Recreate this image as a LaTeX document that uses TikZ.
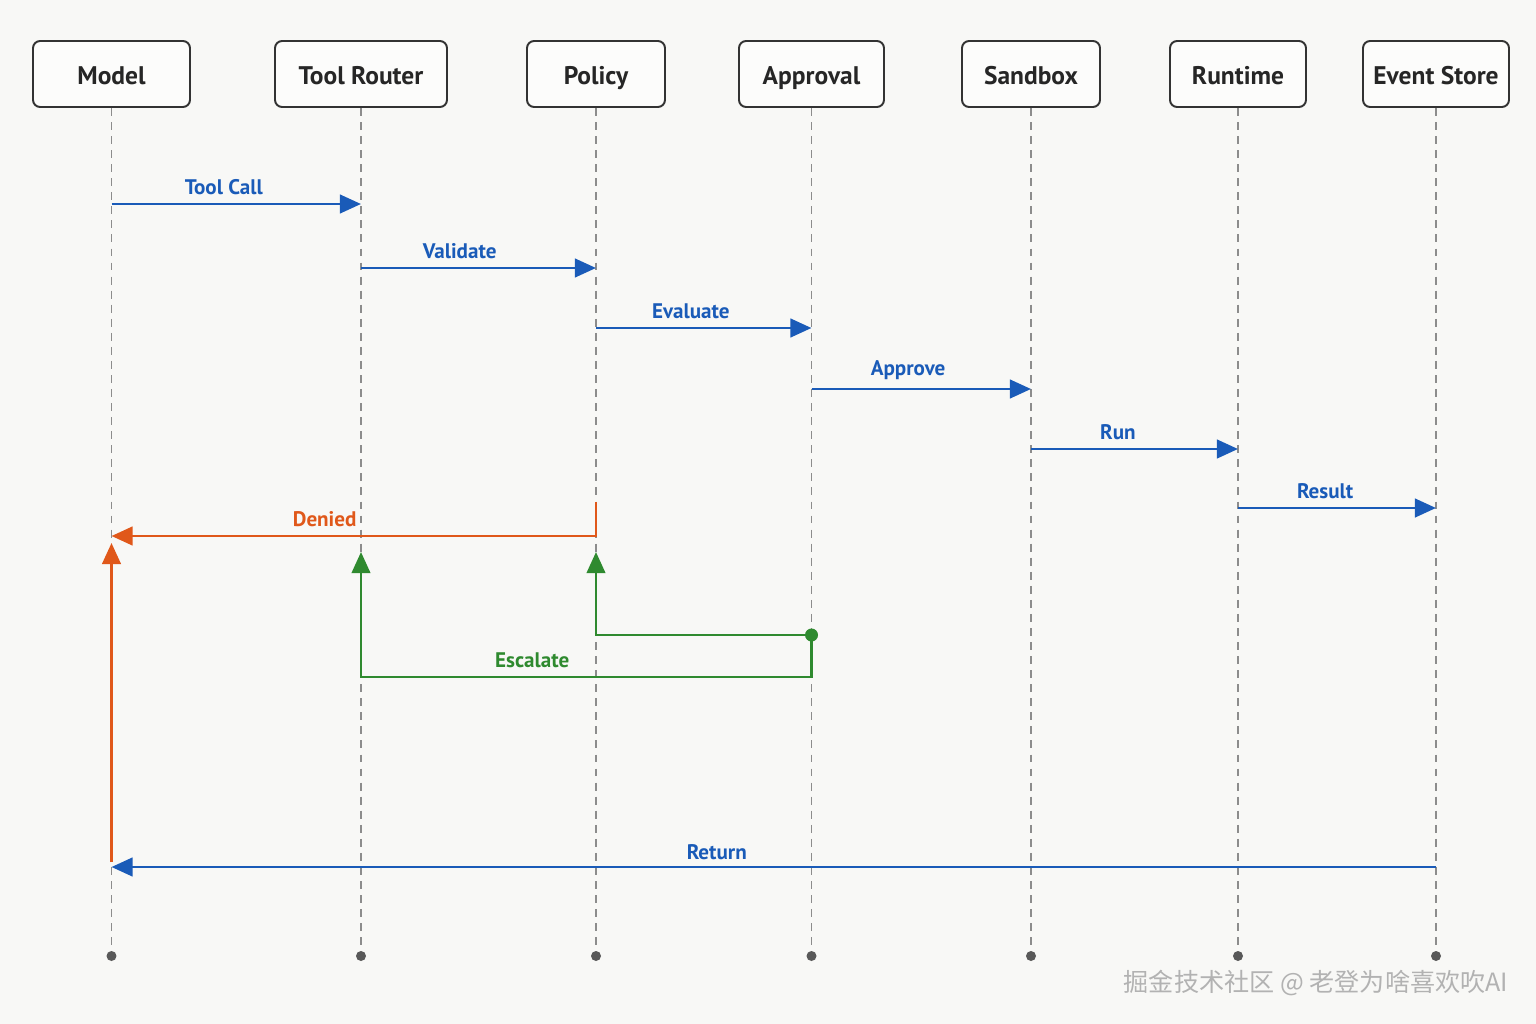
\documentclass[tikz,border=0pt]{standalone}
\usepackage{fontspec}
\setmainfont{PT Sans}
\newfontfamily\cjkfont{Noto Sans CJK SC}
\usetikzlibrary{arrows.meta,positioning,calc}
\definecolor{bgcol}{HTML}{F8F8F6}
\definecolor{msgblue}{HTML}{1A5BB8}
\definecolor{denyorange}{HTML}{E0581A}
\definecolor{escgreen}{HTML}{2F8A2F}
\definecolor{framegray}{HTML}{333333}

\begin{document}
\begin{tikzpicture}[
    x=0.02cm, y=-0.02cm,
    actor/.style={rectangle, draw=framegray, line width=1.1pt, rounded corners=4pt, fill=white!60!bgcol, minimum height=1.32cm, text height=12pt, text depth=0pt, font=\fontsize{14.5}{16}\selectfont\bfseries, text=black!85},
    lifeline/.style={draw=gray!90, line width=0.8pt, dash pattern=on 4.5pt off 3.5pt},
    enddot/.style={circle, fill=black!65, inner sep=0pt, minimum size=0.2cm},
    msg/.style={-{Triangle[length=12pt,width=10.5pt]}, line width=1.7pt},
    lbl/.style={font=\fontsize{12}{14}\selectfont\bfseries, above=1pt}
]
    % Canvas
    \useasboundingbox (0,0) rectangle (1536,1024);
    \fill[bgcol] (0,0) rectangle (1536,1024);

    % Participants
    \node[actor, minimum width=3.14cm] (model) at (111.5,74) {Model};
    \node[actor, minimum width=3.44cm] (router) at (361,74) {Tool Router};
    \node[actor, minimum width=2.76cm] (policy) at (596,74) {Policy};
    \node[actor, minimum width=2.9cm] (approval) at (811.5,74) {Approval};
    \node[actor, minimum width=2.76cm] (sandbox) at (1031,74) {Sandbox};
    \node[actor, minimum width=2.72cm] (runtime) at (1238,74) {Runtime};
    \node[actor, minimum width=2.92cm] (store) at (1436,74) {Event Store};

    % Lifelines
    \node[enddot] (modelend) at (model |- 0,956) {};
    \node[enddot] (routerend) at (router |- 0,956) {};
    \node[enddot] (policyend) at (policy |- 0,956) {};
    \node[enddot] (approvalend) at (approval |- 0,956) {};
    \node[enddot] (sandboxend) at (sandbox |- 0,956) {};
    \node[enddot] (runtimeend) at (runtime |- 0,956) {};
    \node[enddot] (storeend) at (store |- 0,956) {};
    \draw[lifeline] (model.south) -- (modelend);
    \draw[lifeline] (router.south) -- (routerend);
    \draw[lifeline] (policy.south) -- (policyend);
    \draw[lifeline] (approval.south) -- (approvalend);
    \draw[lifeline] (sandbox.south) -- (sandboxend);
    \draw[lifeline] (runtime.south) -- (runtimeend);
    \draw[lifeline] (store.south) -- (storeend);

    % Happy path
    \draw[msg, msgblue] (model |- 0,204) -- node[lbl, pos=0.45] {Tool Call} (router |- 0,204);
    \draw[msg, msgblue] (router |- 0,268) -- node[lbl, pos=0.42] {Validate} (policy |- 0,268);
    \draw[msg, msgblue] (policy |- 0,328) -- node[lbl, pos=0.44] {Evaluate} (approval |- 0,328);
    \draw[msg, msgblue] (approval |- 0,389) -- node[lbl, pos=0.44] {Approve} (sandbox |- 0,389);
    \draw[msg, msgblue] (sandbox |- 0,449) -- node[lbl, pos=0.42] {Run} (runtime |- 0,449);
    \draw[msg, msgblue] (runtime |- 0,508) -- node[lbl, pos=0.44] {Result} (store |- 0,508);

    % Denied
    \draw[msg, denyorange] (policy |- 0,502) -- (policy |- 0,536) -- node[lbl, pos=0.56] {Denied} (model |- 0,536);
    \draw[msg, denyorange] (model |- 0,862) -- (model |- 0,543);

    % Escalate
    \node[circle, fill=escgreen, inner sep=0pt, minimum size=0.26cm] (escdot) at (approval |- 0,635) {};
    \draw[msg, escgreen, line width=1.5pt] (escdot.center) -- (policy |- escdot) -- (policy |- 0,552);
    \draw[msg, escgreen, line width=1.5pt] (escdot.center) -- (approval |- 0,677) -- node[lbl, pos=0.62] {Escalate} (router |- 0,677) -- (router |- 0,552);

    % Return
    \draw[msg, msgblue] (store |- 0,867) -- node[lbl, pos=0.543, above=0pt] {Return} (model |- 0,867);

    % Watermark
    \node[font=\cjkfont\fontsize{14.3}{17}\selectfont, text=gray!60] (mark) at (1316,983) {掘金技术社区 @ 老登为啥喜欢吹AI};
\end{tikzpicture}
\end{document}
